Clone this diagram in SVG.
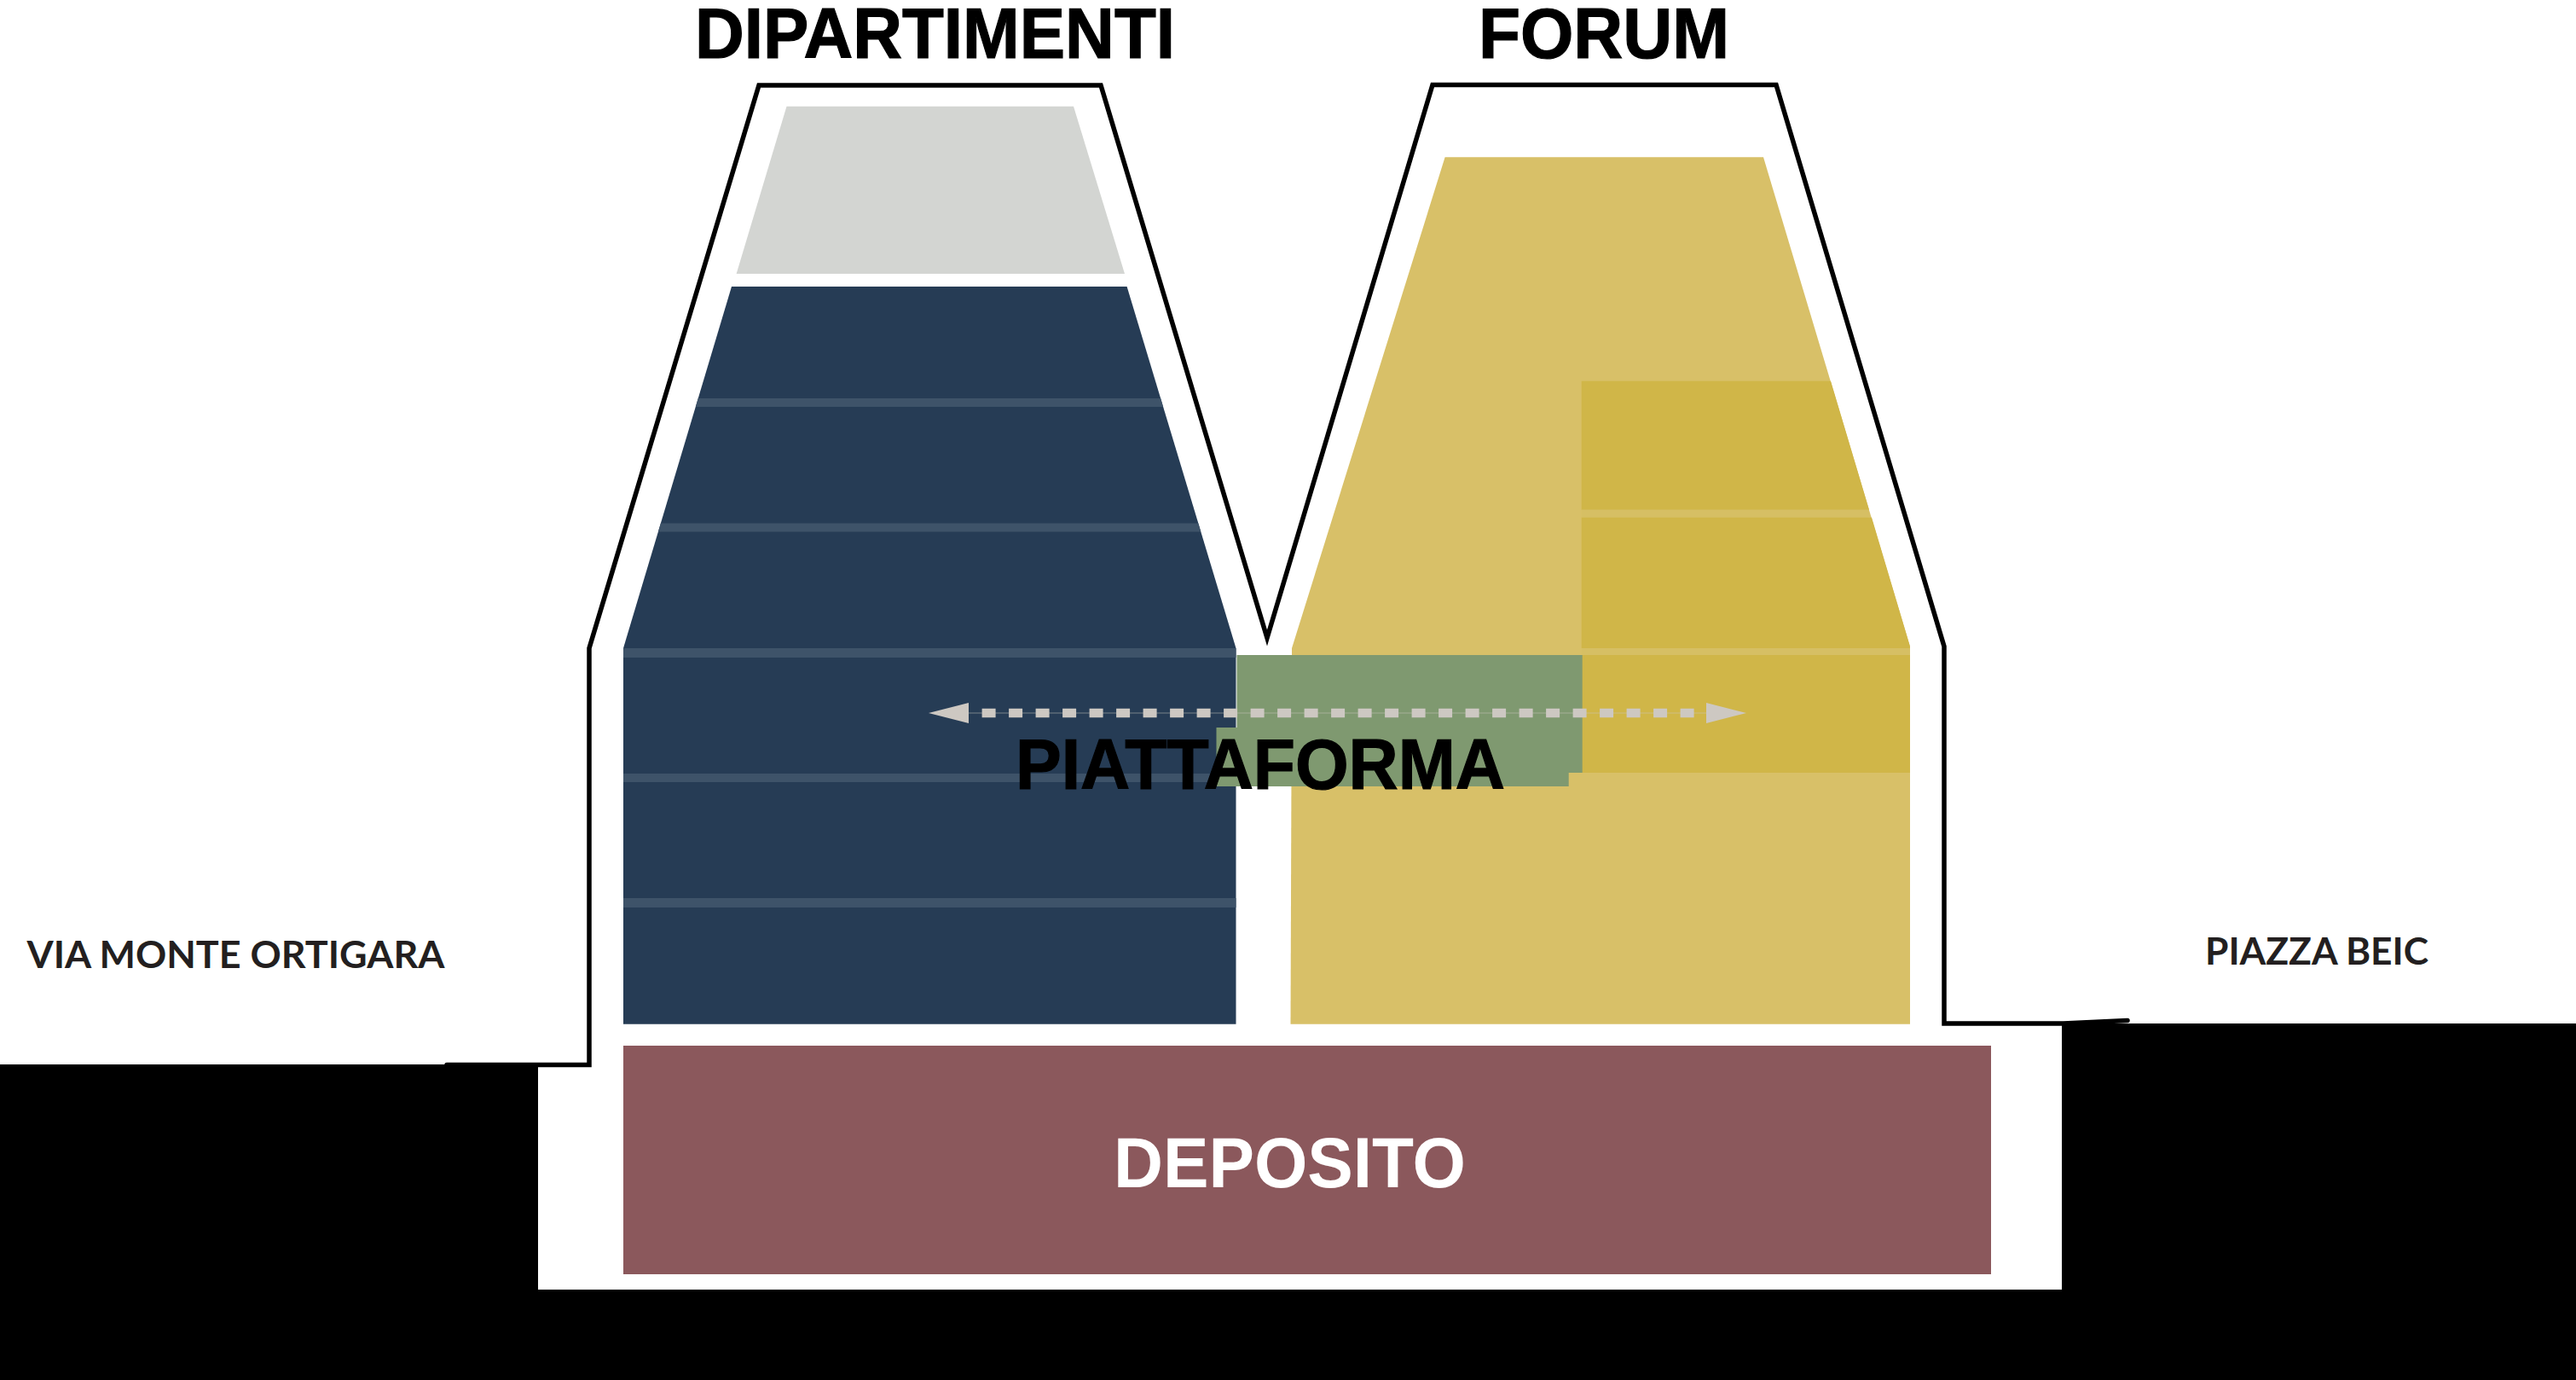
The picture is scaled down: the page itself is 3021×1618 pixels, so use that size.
<svg xmlns="http://www.w3.org/2000/svg" width="3021" height="1618" viewBox="0 0 3021 1618">
<style>
.h{font-family:"Liberation Sans",Arial,sans-serif;font-weight:700;font-size:84px;fill:#000}
.k{stroke:#000;stroke-width:1.2}
.s{font-family:Lato,"Liberation Sans",sans-serif;font-weight:700;font-size:44px;fill:#231f20}
.band{fill:#3e5369}
.yband{fill:#d6bf64}
.dy{fill:#d0b648}
</style>
<defs>
<marker id="head" markerUnits="userSpaceOnUse" markerWidth="47" markerHeight="24" viewBox="0 0 47 24" refX="0" refY="12" orient="auto-start-reverse"><path d="M0 0L47 12L0 24Z" fill="#cdc8c2"/></marker>
</defs>
<rect width="3021" height="1618" fill="#fff"/>
<g id="ground"><path d="M0 1248H631V1512H2418V1200H3021V1618H0Z" fill="#000"/></g>
<g id="labels">
<text class="s" x="31.5" y="1135" textLength="490" lengthAdjust="spacingAndGlyphs">VIA MONTE ORTIGARA</text>
<text class="s" x="2586" y="1131" textLength="262" lengthAdjust="spacingAndGlyphs">PIAZZA BEIC</text>
</g>
<g id="deposito">
<rect x="731" y="1226" width="1604" height="268" fill="#8b585c"/>
<text class="h" x="1306" y="1391.7" textLength="413" lengthAdjust="spacingAndGlyphs" style="fill:#fff">DEPOSITO</text>
</g>
<g id="dipartimenti">
<path d="M922.5 124.7H1259L1319 321H863.6Z" fill="#d3d5d2"/>
<path d="M858 336H1321.6L1449.5 760V1200.7H731V760Z" fill="#263c55"/>
<path class="band" d="M818.8 467H1361.1L1364.1 477H815.8Z"/>
<path class="band" d="M774.9 613.5H1405.3L1408.3 623.5H771.9Z"/>
<rect class="band" x="731" y="760" width="718.5" height="11"/>
<rect class="band" x="731" y="907" width="718.5" height="10"/>
<rect class="band" x="731" y="1053" width="718.5" height="11"/>
<text class="h k" x="815" y="67.5" textLength="563" lengthAdjust="spacingAndGlyphs">DIPARTIMENTI</text>
</g>
<g id="forum">
<path d="M1694.6 184.3H2068L2240 758V1200.7H1513.5L1515 760Z" fill="#d8c068"/>
<path class="dy" d="M1854.7 446.7H2147L2192 597.7H1854.7Z"/>
<rect class="yband" x="1854.7" y="597.7" width="337" height="9"/>
<path class="dy" d="M1854.7 606.7H2195L2240 758V760H1854.7Z"/>
<rect class="yband" x="1854.7" y="760" width="385.3" height="8"/>
<rect class="dy" x="1854.7" y="768" width="385.3" height="138"/>
<text class="h k" x="1734" y="67.5" textLength="294" lengthAdjust="spacingAndGlyphs">FORUM</text>
</g>
<g id="piattaforma">
<path d="M1450.5 768H1855.7V906H1839.7V922H1426.5V853H1450.5Z" fill="#7f9970"/>
</g>
<g id="connectors">
<path d="M524 1248.5H691V760L890 100H1291L1486 748L1680 99.5H2083L2280 758V1200H2420L2495 1196.5" fill="none" stroke="#000" stroke-width="5.5" stroke-linecap="round"/>
<line x1="1136" y1="836" x2="2001" y2="836" stroke="#cdc8c2" stroke-width="1" stroke-opacity=".5" marker-start="url(#head)" marker-end="url(#head)"/>
<line x1="1151.6" y1="836" x2="1987" y2="836" stroke="#cdc8c2" stroke-width="10.7" stroke-dasharray="16 15.5"/>
</g>
<g id="piattaforma-label"><text class="h k" x="1191" y="925" textLength="574" lengthAdjust="spacingAndGlyphs">PIATTAFORMA</text></g>
</svg>
